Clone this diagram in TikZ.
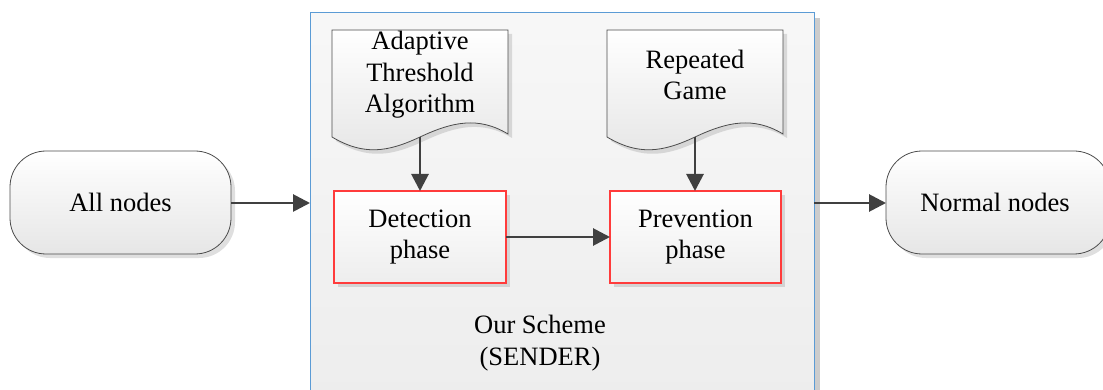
\documentclass[tikz,border=0pt]{standalone}
\usepackage{fontspec}
\setmainfont{Liberation Serif}
\usetikzlibrary{shadows,arrows.meta}
\definecolor{frameblue}{HTML}{5B9BD5}
\definecolor{boxred}{HTML}{FF3B3B}
\definecolor{arrowgray}{HTML}{404040}
\definecolor{shadegray}{HTML}{E6E6E6}
\begin{document}
\begin{tikzpicture}[x=1pt,y=-1pt,
  every node/.style={font=\fontsize{26.5}{31.5}\selectfont, align=center, inner sep=0pt},
  softshadow/.style={drop shadow={shadow xshift=4pt, shadow yshift=-4pt, opacity=0.25, fill=gray}},
  terminal/.style={draw=black!70, line width=0.8pt, rounded corners=36pt,
    top color=white, bottom color=shadegray, softshadow},
  phasebox/.style={draw=boxred, line width=1.1pt, top color=white, bottom color=shadegray!70, softshadow},
  docshape/.style={draw=black!70, line width=0.8pt, top color=white, bottom color=shadegray, softshadow},
  flow/.style={draw=arrowgray, line width=2.8pt, -{Triangle[length=17pt,width=17pt]}}
]
\useasboundingbox (0,0) rectangle (1103,390);

% enclosing scheme frame
\fill[gray!40] (815,18) rectangle (820,395);
\path[draw=frameblue, line width=1pt, top color=white!97!black, bottom color=white!93!black]
  (310,13) rectangle (814,395);

% input and output terminals
\path[terminal] (10,151) rectangle (231,254);
\node (all) at (120.5,202.5) {All nodes};
\coordinate (allE) at (231,203);
\path[terminal] (886,151) rectangle (1110,254);
\node (normal) at (995,202.5) {Normal nodes};
\coordinate (normalW) at (886,203);

% scheme frame edges where the flow enters and leaves
\coordinate (frameW) at (310,203);
\coordinate (frameE) at (814,203);

% phase boxes
\path[phasebox] (334,191) rectangle (506,283);
\node (det) at (420,237) {Detection\\phase};
\coordinate (detN) at (420,191);
\coordinate (detE) at (506,237);
\path[phasebox] (610,191) rectangle (781,283);
\node (prev) at (695.5,237) {Prevention\\phase};
\coordinate (prevN) at (695,191);
\coordinate (prevW) at (610,237);

% document shapes with wavy lower edge
\path[docshape] (332,30) -- (508,30) -- (508,134)
  .. controls (478,116) and (452,122) .. (420,137)
  .. controls (388,152) and (364,156) .. (332,137) -- cycle;
\node (ata) at (420,75) {Adaptive\\Threshold\\Algorithm};
\coordinate (ataS) at (420,137);
\path[docshape] (607,30) -- (783,30) -- (783,134)
  .. controls (753,116) and (727,122) .. (695,137)
  .. controls (663,152) and (639,156) .. (607,137) -- cycle;
\node (rg) at (695,75) {Repeated\\Game};
\coordinate (rgS) at (695,137);

% scheme label
\node (scheme) at (540,343) {Our Scheme\\(SENDER)};

% connectors
\draw[flow] (allE) -- (frameW);
\draw[flow] (frameE) -- (normalW);
\draw[flow] (detE) -- (prevW);
\draw[flow] (ataS) -- (detN);
\draw[flow] (rgS) -- (prevN);
\end{tikzpicture}
\end{document}
